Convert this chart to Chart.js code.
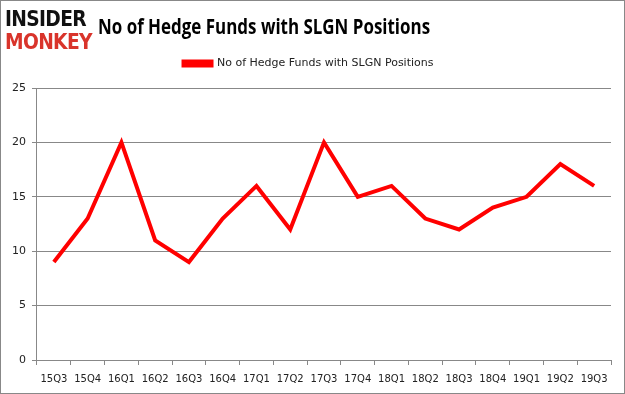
<!DOCTYPE html>
<html lang="en">
<head>
  <meta charset="UTF-8" />
  <title>No of Hedge Funds with SLGN Positions</title>
  <script src="https://cdn.jsdelivr.net/npm/chart.js"></script>
  <style>
    html, body { margin: 0; padding: 0; background: #fff; }
    #wrap { position: relative; width: 623px; height: 392px; border: 1px solid #888; overflow: hidden; }
    #logo { position: absolute; left: 4px; top: 6px; font-family: "DejaVu Sans", sans-serif; font-weight: bold; line-height: 23px; font-size: 22px; letter-spacing: -0.8px; transform: scaleX(0.85); transform-origin: left top; }
    #logo .a { color: #111; }
    #logo .b { color: #d9342b; }
    #title { position: absolute; left: 97px; top: 9px; font-family: "Open Sans", sans-serif; font-weight: bold; font-size: 22px; color: #000; transform: scaleX(0.77); transform-origin: left top; white-space: nowrap; }
    #box { position: absolute; left: 0; top: 0; width: 623px; height: 392px; }
  </style>
</head>
<body>
  <div id="wrap">
    <div id="box"><canvas id="chart"></canvas></div>
    <div id="logo"><div class="a">INSIDER</div><div class="b">MONKEY</div></div>
    <div id="title">No of Hedge Funds with SLGN Positions</div>
  </div>

  <script>
    // Данные графика
    const quarters = ['15Q3', '15Q4', '16Q1', '16Q2', '16Q3', '16Q4', '17Q1', '17Q2', '17Q3',
                      '17Q4', '18Q1', '18Q2', '18Q3', '18Q4', '19Q1', '19Q2', '19Q3'];
    const funds = [9, 13, 20, 11, 9, 13, 16, 12, 20, 15, 16, 13, 12, 14, 15, 18, 16];
    const yTicks = [0, 5, 10, 15, 20, 25];

    // увеличиваем отступ под легендой
    const legendGap = {
      id: 'legendGap',
      beforeInit(chart) {
        const fit = chart.legend.fit;
        chart.legend.fit = function () {
          fit.call(this);
          this.height += 9;
        };
      },
    };

    const ctx = document.getElementById('chart').getContext('2d');
    new Chart(ctx, {
      type: 'line',
      data: {
        labels: quarters,
        datasets: [{
          label: 'No of Hedge Funds with SLGN Positions',
          data: funds,
          borderColor: '#ff0000',
          backgroundColor: '#ff0000',
          borderWidth: 4,
          pointRadius: 0,
          tension: 0,
        }],
      },
      plugins: [legendGap],
      options: {
        responsive: true,
        maintainAspectRatio: false,
        animation: false,
        layout: { padding: { top: 31, right: 13, left: 5, bottom: 0 } },
        plugins: {
          legend: {
            position: 'top',
            labels: {
              boxWidth: 28,
              boxHeight: 4,
              color: '#222',
              font: { family: 'DejaVu Sans', size: 11 },
              padding: 26,
            },
          },
          tooltip: { enabled: false },
        },
        scales: {
          y: {
            min: 0,
            max: 25,
            afterBuildTicks: axis => { axis.ticks = yTicks.map(v => ({ value: v })); },
            grid: { color: '#888', tickLength: 5 },
            border: { color: '#888' },
            ticks: { color: '#222', font: { family: 'DejaVu Sans', size: 11 }, padding: 6 },
          },
          x: {
            offset: true,
            grid: { offset: true, drawOnChartArea: false, color: '#888', tickLength: 5 },
            border: { color: '#888' },
            ticks: { color: '#222', font: { family: 'DejaVu Sans', size: 10 }, padding: 8, maxRotation: 0, autoSkip: false },
          },
        },
      },
    });
  </script>
</body>
</html>
